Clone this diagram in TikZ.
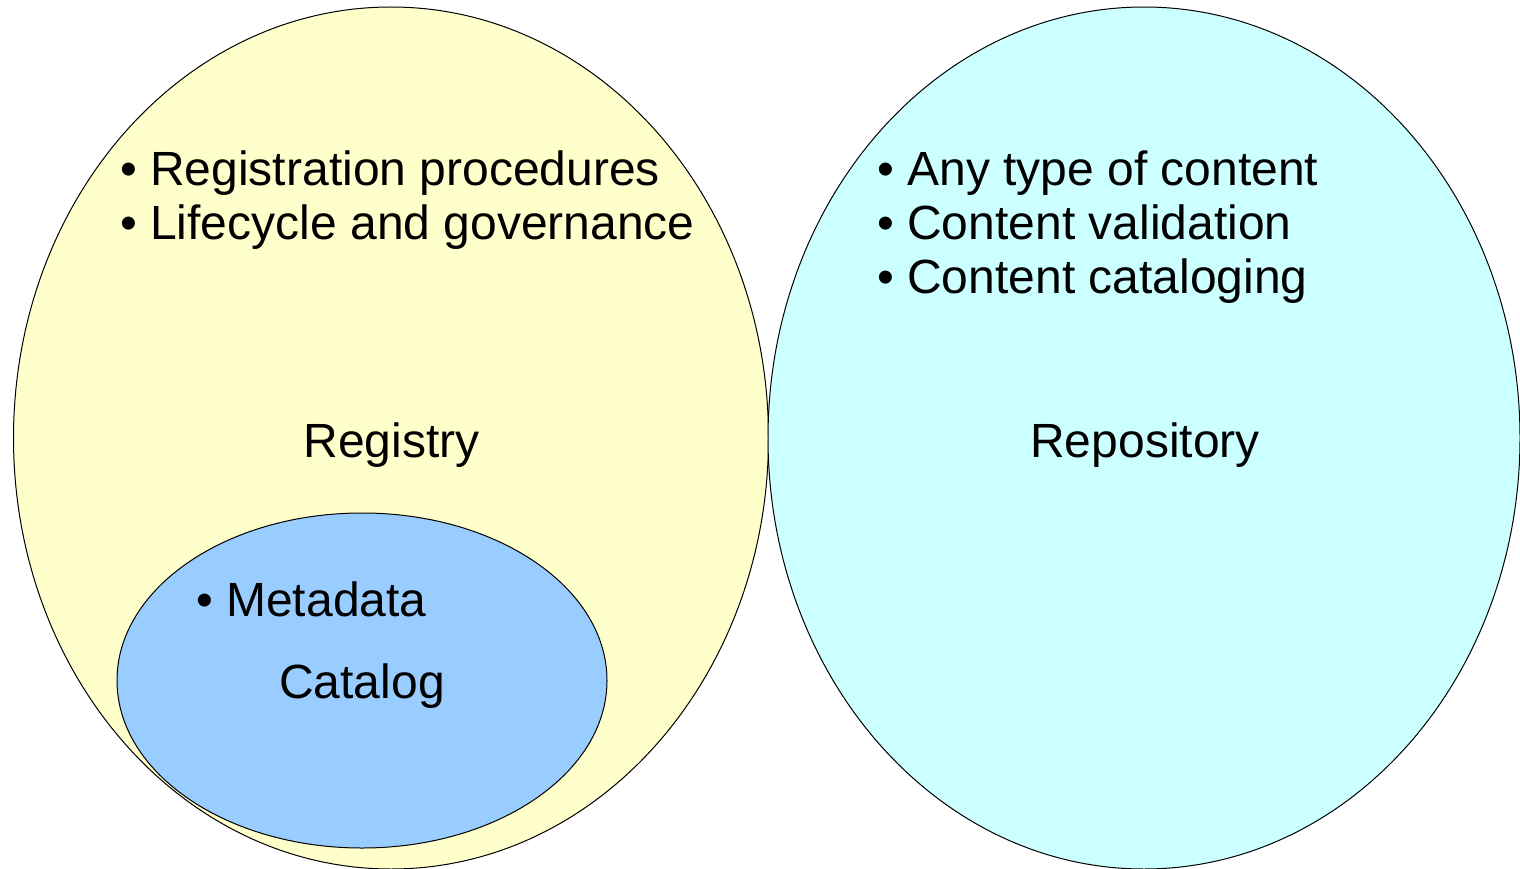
\documentclass[tikz,border=0pt]{standalone}
\usepackage{fontspec}
\setmainfont{Liberation Sans}
\usetikzlibrary{shapes.geometric,positioning}
\definecolor{regyellow}{HTML}{FFFFCC}
\definecolor{repocyan}{HTML}{CCFFFF}
\definecolor{catblue}{HTML}{99CCFF}
\begin{document}
\begin{tikzpicture}[x=1pt, y=-1pt, every node/.style={font=\fontsize{48}{54}\selectfont}]

	\tikzset{
	setblob/.style={ellipse, draw=black, line width=1pt, inner sep=0pt},
	listblock/.style={align=left, anchor=base west, inner sep=0pt},
	setname/.style={anchor=base, inner sep=0pt}
	}

	\useasboundingbox (0,0) rectangle (1520,869);

	% Sets
	\node[setblob, fill=regyellow, minimum width=755, minimum height=862] (registry) at (391,438) {};
	\node[setblob, fill=repocyan, minimum width=752, minimum height=862] (repository) at (1144,438) {};
	\node[setblob, fill=catblue, minimum width=490, minimum height=335] (catalog) at (362,680.5) {};

	% Names
	\node[setname] (regname) at (391.5,457) {Registry};
	\node[setname] (reponame) at (1145,457) {Repository};
	\node[setname] (catname) at (362,698) {Catalog};

	% Bullet lists (base = last line)
	\node[listblock] (reglist) at (120,239) {\textbullet{} Registration procedures\\\textbullet{} Lifecycle and governance};
	\node[listblock] (repolist) at (877,293) {\textbullet{} Any type of content\\\textbullet{} Content validation\\\textbullet{} Content cataloging};
	\node[listblock] (catlist) at (196,616) {\textbullet{} Metadata};

\end{tikzpicture}
\end{document}
